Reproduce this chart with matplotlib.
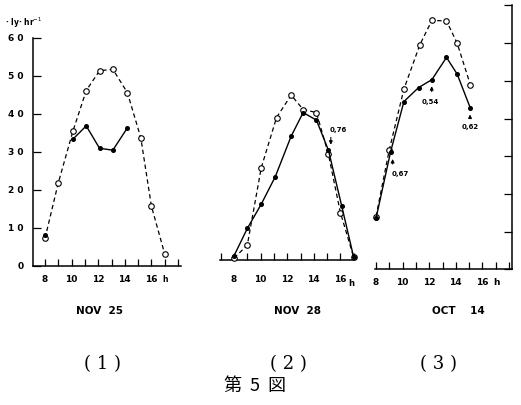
import matplotlib.pyplot as plt
import numpy as np

# panel (1) NOV 25
h1_open = [8, 9, 10.1, 11.1, 12.1, 13.1, 14.2, 15.2, 16, 17]
v1_open = [7.2, 21.8, 35.4, 46.1, 51.3, 51.7, 45.5, 33.7, 15.7, 3.1]
h1_fill = [8, 9, 10.1, 11.1, 12.1, 13.1, 14.2]
v1_fill = [8.2, np.nan, 33.3, 36.8, 30.9, 30.4, 36.3]

# panel (2) NOV 28
h2_open = [8, 9, 10.05, 11.2, 12.3, 13.2, 14.2, 15.1, 16, 17]
v2_open = [0.5, 3.9, 24.3, 37.5, 43.4, 39.6, 38.8, 27.8, 12.5, 0.7]
h2_fill = [8, 9, 10.05, 11.1, 12.3, 13.2, 14.2, 15.1, 16.1, 17]
v2_fill = [1.1, 8.3, 14.7, 21.9, 32.6, 38.8, 36.8, 28.9, 14.2, 0.7]

# panel (3) OCT 14
h3_open = [8, 9, 10.1, 11.3, 12.2, 13.3, 14.1, 15.1]
v3_open = [14.0, 31.7, 47.8, 59.6, 66.0, 65.9, 60.0, 48.9]
h3_fill = [8, 9.1, 10.1, 11.2, 12.2, 13.3, 14.1, 15.1]
v3_fill = [13.5, 31.2, 44.5, 48.2, 50.3, 56.2, 51.8, 42.7]

titles = ['NOV  25', 'NOV  28', 'OCT    14']
numbers = ['( 1 )', '( 2 )', '( 3 )']
hour_ticks = [8, 10, 12, 14, 16]

W, H = 521, 405
PX_H = 13.3   # pixels per hour


def make_axes(fig, x8, y0, ppu, xlo, xhi, ytop):
    left = x8 + (xlo - 8) * PX_H
    width = (xhi - xlo) * PX_H
    rect = [left / W, (H - y0) / H, width / W, ytop * ppu / H]
    ax = fig.add_axes(rect)
    ax.set_xlim(xlo, xhi)
    ax.set_ylim(0, ytop)
    ax.patch.set_alpha(0)
    for s in ax.spines.values():
        s.set_visible(False)
        s.set_linewidth(1.1)
    ax.spines['bottom'].set_visible(True)
    return ax


def draw(ax, ho, vo, hf, vf):
    ax.plot(ho, vo, color='black', lw=0.9, ls=(0, (3.5, 2.5)), marker='o',
            ms=4, mfc='white', mec='black', mew=0.8, clip_on=False, zorder=3)
    ax.plot(hf, vf, color='black', lw=1.0, ls='-', marker='o',
            ms=2.6, mfc='black', mec='black', clip_on=False, zorder=4)


def xticks(ax, lo, hi, pad):
    ax.set_xticks(np.arange(lo, hi + 1))
    ax.set_xticklabels([str(t) if t in hour_ticks else '' for t in range(lo, hi + 1)])
    ax.tick_params(axis='x', direction='in', length=5, width=0.9, pad=pad,
                   labelsize=6.5)
    for t in ax.get_xticklabels():
        t.set_fontweight('bold')


fig = plt.figure(figsize=(W / 100, H / 100), dpi=100)

# (1)
ax1 = make_axes(fig, 45, 265.7, 3.8, 7.1, 18.2, 60)
ax1.spines['left'].set_visible(True)
draw(ax1, h1_open, v1_open, h1_fill, v1_fill)
xticks(ax1, 8, 18, 7)
ax1.set_yticks(np.arange(0, 61, 10))
ax1.set_yticklabels(['0', '1 0', '2 0', '3 0', '4 0', '5 0', '6 0'])
ax1.tick_params(axis='y', direction='in', length=6, width=0.9, pad=7, labelsize=6.5)
for t in ax1.get_yticklabels():
    t.set_fontweight('bold')
ax1.text(17, -2.4, 'h', ha='center', va='top', fontsize=5.5, fontweight='bold')
fig.text(5 / W, 1 - 23 / H, '· ly· hr$^{-1}$', ha='left', va='center',
         fontsize=5.5, fontweight='bold')

# (2)
ax2 = make_axes(fig, 234, 260, 3.8, 6.95, 17.05, 60)
draw(ax2, h2_open, v2_open, h2_fill, v2_fill)
xticks(ax2, 7, 17, 11)
ax2.set_yticks([])
ax2.text(16.85, -5.0, 'h', ha='center', va='top', fontsize=6, fontweight='bold')
ax2.annotate('', xy=(15.28, 29.6), xytext=(15.28, 33.0),
             arrowprops=dict(arrowstyle='-|>', color='black', lw=0.8, mutation_scale=5))
ax2.text(15.2, 33.3, '0,76', ha='left', va='bottom', fontsize=5, fontweight='bold')

# (3)
ax3 = make_axes(fig, 376, 269.3, 3.77, 7.95, 18.25, 70)
ax3.spines['right'].set_visible(True)
draw(ax3, h3_open, v3_open, h3_fill, v3_fill)
xticks(ax3, 8, 18, 6)
ax3.yaxis.tick_right()
ax3.set_yticks(np.arange(0, 71, 10))
ax3.set_yticklabels([])
ax3.tick_params(axis='y', direction='in', length=6, width=0.9)
ax3.text(17.05, -2.3, 'h', ha='center', va='top', fontsize=6.5, fontweight='bold')
for hx, tail, head in [(9.25, 27.2, 30.0), (12.19, 46.4, 49.3), (15.07, 39.4, 41.8)]:
    ax3.annotate('', xy=(hx, head), xytext=(hx, tail),
                 arrowprops=dict(arrowstyle='-|>', color='black', lw=0.8, mutation_scale=5))
ax3.text(9.2, 26.0, '0,67', ha='left', va='top', fontsize=5, fontweight='bold')
ax3.text(12.1, 45.2, '0,54', ha='center', va='top', fontsize=5, fontweight='bold')
ax3.text(15.1, 38.5, '0,62', ha='center', va='top', fontsize=5, fontweight='bold')

# titles and captions
for xc, t in zip([100, 298, 458], titles):
    fig.text(xc / W, 1 - 311 / H, t, ha='center', va='center', fontsize=7.5,
             fontweight='bold')
for xc, t in zip([102, 288, 438], numbers):
    fig.text(xc / W, 1 - 364 / H, t, ha='center', va='center', fontsize=13,
             family='DejaVu Serif')
fig.text(255 / W, 1 - 386 / H, '第  5  図', ha='center', va='center', fontsize=13,
         family=['Noto Sans CJK JP', 'DejaVu Sans'])

plt.savefig('out.png', dpi=100)
